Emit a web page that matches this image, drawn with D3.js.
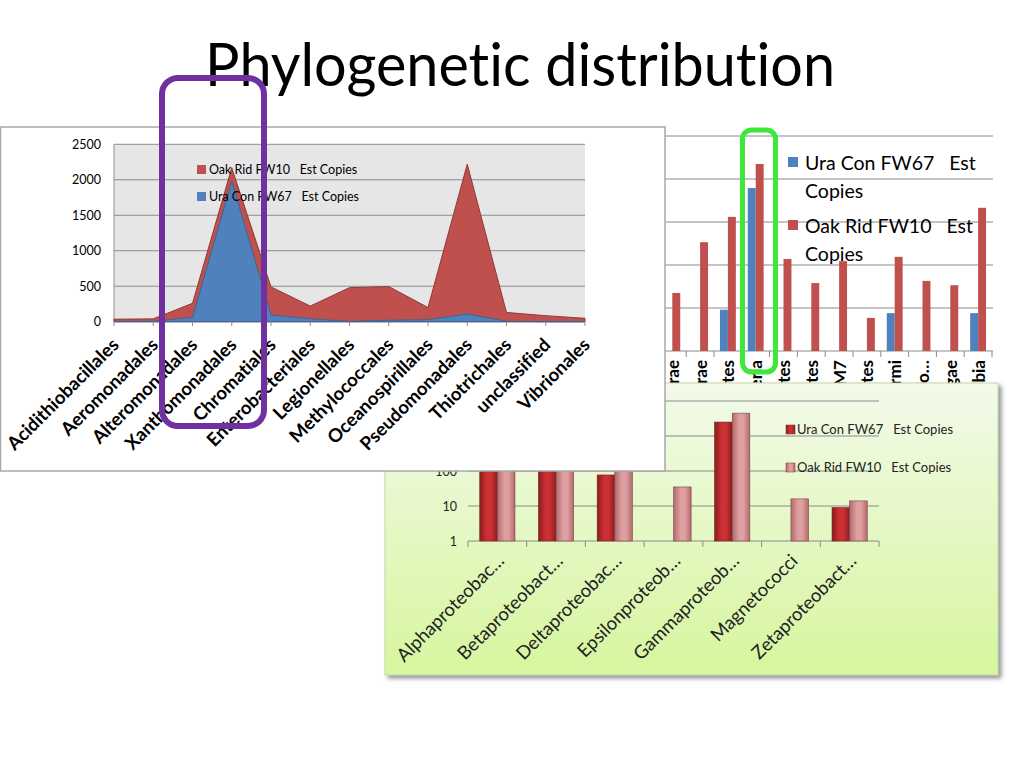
<!DOCTYPE html>
<html>
<head>
<meta charset="utf-8">
<script src="https://d3js.org/d3.v7.min.js"></script>
<style>
  body { margin: 0; background: #fff; }
  text { font-family: Lato, "Open Sans", sans-serif; font-variant-ligatures: none; }
</style>
</head>
<body>
<svg width="1024" height="768"></svg>
<script>
// ---- data ----
// area chart (orders)
var orders = ["Acidithiobacillales", "Aeromonadales", "Alteromonadales", "Xanthomonadales",
  "Chromatiales", "Enterobacteriales", "Legionellales", "Methylococcales", "Oceanospirillales",
  "Pseudomonadales", "Thiotrichales", "unclassified", "Vibrionales"];
var uraOrders = [5, 5, 60, 1980, 95, 40, 5, 20, 28, 110, 5, 0, 0];
var oakOrders = [35, 40, 260, 2170, 490, 220, 480, 495, 200, 2220, 130, 85, 48];
var areaTicks = [0, 500, 1000, 1500, 2000, 2500];

// bar chart behind (phyla) - the first ones are hidden under the area chart
var phyla = ["Acidobacteria", "Actinobacteria", "Bacteroidetes", "Chlorobi", "Chloroflexi",
  "Cyanobacteria", "Firmicutes", "Fusobacteria", "Gemmatimonadetes", "Lentisphaerae",
  "Nitrospirae", "Planctomycetes", "Proteobacteria", "Spirochaetes", "Synergistetes", "TM7",
  "Tenericutes", "Thermi", "Thermodesulfo…", "Thermotogae", "Verrucomicrobia"];
var uraPhyla = [150, 300, 250, 0, 200, 100, 350, 0, 0, 0, 0, 480, 1895, 0, 0, 0, 0, 440, 0, 0, 440];
var oakPhyla = [900, 1300, 1100, 400, 1000, 800, 1400, 300, 600, 675, 1265, 1560, 2175, 1070,
  790, 1045, 385, 1095, 815, 765, 1665];
var phylaTicks = [0, 500, 1000, 1500, 2000, 2500];

// log bar chart (classes)
var classes = ["Alphaproteobac…", "Betaproteobact…", "Deltaproteobac…", "Epsilonproteob…",
  "Gammaproteob…", "Magnetococci", "Zetaproteobact…"];
var uraClasses = [400, 350, 77, 0, 2500, 0, 9];
var oakClasses = [650, 500, 130, 35, 4500, 16, 14];
var logTicks = [1, 10, 100, 1000, 10000];

var seriesNames = ["Ura Con FW67   Est Copies", "Oak Rid FW10   Est Copies"];

var svg = d3.select("svg");
var defs = svg.append("defs");

// ---- title ----
svg.append("text")
    .attr("x", 520).attr("y", 86)
    .attr("text-anchor", "middle")
    .attr("font-size", 60)
    .attr("textLength", 630)
    .attr("lengthAdjust", "spacingAndGlyphs")
    .text("Phylogenetic distribution");

// ======== chart behind: phyla bars ========
var pb = svg.append("g");
var pbX = d3.scaleBand().domain(phyla).range([992 - phyla.length * 27.8, 992]);
var pbY = d3.scaleLinear().domain([0, 2500]).range([351, 136]);
pb.append("rect").attr("x", pbX.range()[0] - 60).attr("y", 118)
    .attr("width", 1000 - pbX.range()[0] + 60).attr("height", 270).attr("fill", "#fff");
pb.selectAll(".grid").data(phylaTicks).enter().append("line")
    .attr("x1", pbX.range()[0]).attr("x2", 993)
    .attr("y1", d => pbY(d)).attr("y2", d => pbY(d))
    .attr("stroke", "#8a8a8a").attr("stroke-width", 1);
pb.selectAll(".tick").data(d3.range(phyla.length + 1)).enter().append("line")
    .attr("x1", d => pbX.range()[0] + d * pbX.step()).attr("x2", d => pbX.range()[0] + d * pbX.step())
    .attr("y1", 351).attr("y2", 357).attr("stroke", "#8a8a8a");
var bw = pbX.bandwidth() / 3.5;
pb.selectAll(".ura").data(phyla).enter().append("rect")
    .attr("x", d => pbX(d) + pbX.bandwidth() / 2 - bw)
    .attr("y", (d, i) => pbY(uraPhyla[i]))
    .attr("width", bw).attr("height", (d, i) => pbY(0) - pbY(uraPhyla[i]))
    .attr("fill", "#4f81bd");
pb.selectAll(".oak").data(phyla).enter().append("rect")
    .attr("x", d => pbX(d) + pbX.bandwidth() / 2)
    .attr("y", (d, i) => pbY(oakPhyla[i]))
    .attr("width", bw).attr("height", (d, i) => pbY(0) - pbY(oakPhyla[i]))
    .attr("fill", "#c0504d");
pb.selectAll(".lab").data(phyla).enter().append("text")
    .attr("transform", d => "translate(" + (pbX(d) + pbX.bandwidth() / 2 + 6.5) + ",360) rotate(-90)")
    .attr("text-anchor", "end")
    .attr("font-size", 17).attr("font-weight", "bold")
    .text(d => d);
var pbLeg = pb.append("g").attr("font-size", 19.5);
[["#4f81bd", 170, 198], ["#c0504d", 233, 261]].forEach(function (s, i) {
  pbLeg.append("rect").attr("x", 788).attr("y", s[1] - 13).attr("width", 10).attr("height", 10).attr("fill", s[0]);
  pbLeg.append("text").attr("x", 805).attr("y", s[1]).style("white-space", "pre")
      .text(seriesNames[i].replace(" Copies", ""));
  pbLeg.append("text").attr("x", 805).attr("y", s[2]).text("Copies");
});

// ======== log bar chart (green) ========
var grad = defs.append("linearGradient").attr("id", "greenBg")
    .attr("x1", 0).attr("y1", 0).attr("x2", 0).attr("y2", 1);
grad.append("stop").attr("offset", "0%").attr("stop-color", "#f3faea");
grad.append("stop").attr("offset", "100%").attr("stop-color", "#d6f69e");
var shadow = defs.append("filter").attr("id", "shadow")
    .attr("x", "-5%").attr("y", "-5%").attr("width", "115%").attr("height", "115%");
shadow.append("feDropShadow").attr("dx", 3).attr("dy", 3).attr("stdDeviation", 2)
    .attr("flood-color", "#666").attr("flood-opacity", 0.7);
function barGrad(id, edge, mid) {
  var g = defs.append("linearGradient").attr("id", id).attr("x1", 0).attr("x2", 1).attr("y1", 0).attr("y2", 0);
  g.append("stop").attr("offset", "0%").attr("stop-color", edge);
  g.append("stop").attr("offset", "40%").attr("stop-color", mid);
  g.append("stop").attr("offset", "65%").attr("stop-color", mid);
  g.append("stop").attr("offset", "100%").attr("stop-color", edge);
}
barGrad("uraBar", "#8c1c1d", "#cc3033");
barGrad("oakBar", "#b06a6d", "#df9ea0");

var lb = svg.append("g");
lb.append("rect").attr("x", 385).attr("y", 383).attr("width", 613).attr("height", 292)
    .attr("fill", "url(#greenBg)").attr("stroke", "#c4d8a8").attr("filter", "url(#shadow)");
var lbX = d3.scaleBand().domain(classes).range([468, 879]);
var lbY = d3.scaleLog().domain([1, 10000]).range([541, 401]);
lb.selectAll(".grid").data(logTicks).enter().append("line")
    .attr("x1", 468).attr("x2", 879)
    .attr("y1", d => lbY(d)).attr("y2", d => lbY(d))
    .attr("stroke", "#8a8a8a");
lb.selectAll(".tick").data(d3.range(classes.length + 1)).enter().append("line")
    .attr("x1", d => 468 + d * lbX.step()).attr("x2", d => 468 + d * lbX.step())
    .attr("y1", 541).attr("y2", 547).attr("stroke", "#8a8a8a");
lb.selectAll(".ylab").data(logTicks).enter().append("text")
    .attr("x", 457).attr("y", d => lbY(d) + 4.5)
    .attr("text-anchor", "end").attr("font-size", 12.5).attr("fill", "#222")
    .text(d => d);
var lbw = lbX.bandwidth() * 0.3;
lb.selectAll(".ura").data(classes.filter((d, i) => uraClasses[i] > 0)).enter().append("rect")
    .attr("x", d => lbX(d) + lbX.bandwidth() / 2 - lbw)
    .attr("y", d => lbY(uraClasses[classes.indexOf(d)]))
    .attr("width", lbw)
    .attr("height", d => 541 - lbY(uraClasses[classes.indexOf(d)]))
    .attr("fill", "url(#uraBar)").attr("stroke", "#6e2424").attr("stroke-width", 0.6);
lb.selectAll(".oak").data(classes.filter((d, i) => oakClasses[i] > 0)).enter().append("rect")
    .attr("x", d => lbX(d) + lbX.bandwidth() / 2)
    .attr("y", d => lbY(oakClasses[classes.indexOf(d)]))
    .attr("width", lbw)
    .attr("height", d => 541 - lbY(oakClasses[classes.indexOf(d)]))
    .attr("fill", "url(#oakBar)").attr("stroke", "#7e4548").attr("stroke-width", 0.6);
lb.selectAll(".xlab").data(classes).enter().append("text")
    .attr("transform", d => "translate(" + (lbX(d) + lbX.bandwidth() / 2 + 8) + ",562) rotate(-45)")
    .attr("text-anchor", "end").attr("font-size", 18.5).attr("fill", "#222")
    .text(d => d);
[["url(#uraBar)", 434], ["url(#oakBar)", 472]].forEach(function (s, i) {
  lb.append("rect").attr("x", 786).attr("y", s[1] - 9).attr("width", 9).attr("height", 9)
      .attr("fill", s[0]).attr("stroke", "#7a3030").attr("stroke-width", 0.5);
  lb.append("text").attr("x", 797).attr("y", s[1]).attr("font-size", 13).attr("fill", "#222")
      .style("white-space", "pre").text(seriesNames[i]);
});

// ======== area chart (front) ========
var ac = svg.append("g");
ac.append("rect").attr("x", 0.5).attr("y", 127).attr("width", 664.5).attr("height", 344)
    .attr("fill", "#fff").attr("stroke", "#a8a8a8").attr("stroke-width", 1.5);
var acX = d3.scalePoint().domain(orders).range([114, 585]);
var acY = d3.scaleLinear().domain([0, 2500]).range([321.7, 144.3]);
ac.append("rect").attr("x", 114).attr("y", 144.3).attr("width", 471).attr("height", 177.4)
    .attr("fill", "#e6e6e6");
ac.selectAll(".grid").data(areaTicks).enter().append("line")
    .attr("x1", 114).attr("x2", 585)
    .attr("y1", d => acY(d)).attr("y2", d => acY(d))
    .attr("stroke", "#8c8c8c").attr("stroke-width", 1);
ac.append("line").attr("x1", 114).attr("x2", 114).attr("y1", 144.3).attr("y2", 321.7)
    .attr("stroke", "#8c8c8c");
ac.selectAll(".ylab").data(areaTicks).enter().append("text")
    .attr("x", 101).attr("y", d => acY(d) + 4.5)
    .attr("text-anchor", "end").attr("font-size", 12.5)
    .text(d => d);
var area = d3.area().x(d => acX(d[0])).y0(acY(0)).y1(d => acY(d[1]));
ac.append("path").attr("d", area(orders.map((d, i) => [d, oakOrders[i]])))
    .attr("fill", "#c0504d").attr("stroke", "#8e3a37").attr("stroke-width", 1);
ac.append("path").attr("d", area(orders.map((d, i) => [d, uraOrders[i]])))
    .attr("fill", "#4f81bd").attr("stroke", "#3b6595").attr("stroke-width", 1);
ac.selectAll(".tick").data(orders).enter().append("line")
    .attr("x1", d => acX(d)).attr("x2", d => acX(d))
    .attr("y1", 321.7).attr("y2", 326).attr("stroke", "#8c8c8c");
ac.selectAll(".xlab").data(orders).enter().append("text")
    .attr("transform", d => "translate(" + (acX(d) + 6) + ",346) rotate(-45)")
    .attr("text-anchor", "end").attr("font-size", 18.5).attr("font-weight", "bold")
    .text(d => d);
[["#c0504d", 174, 1], ["#4f81bd", 201, 0]].forEach(function (s) {
  ac.append("rect").attr("x", 197).attr("y", s[1] - 9).attr("width", 9).attr("height", 9).attr("fill", s[0]);
  ac.append("text").attr("x", 209).attr("y", s[1]).attr("font-size", 12.5)
      .style("white-space", "pre").text(seriesNames[s[2]]);
});

// ---- highlight boxes ----
svg.append("rect").attr("x", 162).attr("y", 78).attr("width", 102).attr("height", 348)
    .attr("rx", 16).attr("fill", "none").attr("stroke", "#7030a0").attr("stroke-width", 6);
svg.append("rect").attr("x", 742.5).attr("y", 130).attr("width", 33).attr("height", 242)
    .attr("rx", 9).attr("fill", "none").attr("stroke", "#3ee83a").attr("stroke-width", 5);
</script>
</body>
</html>
